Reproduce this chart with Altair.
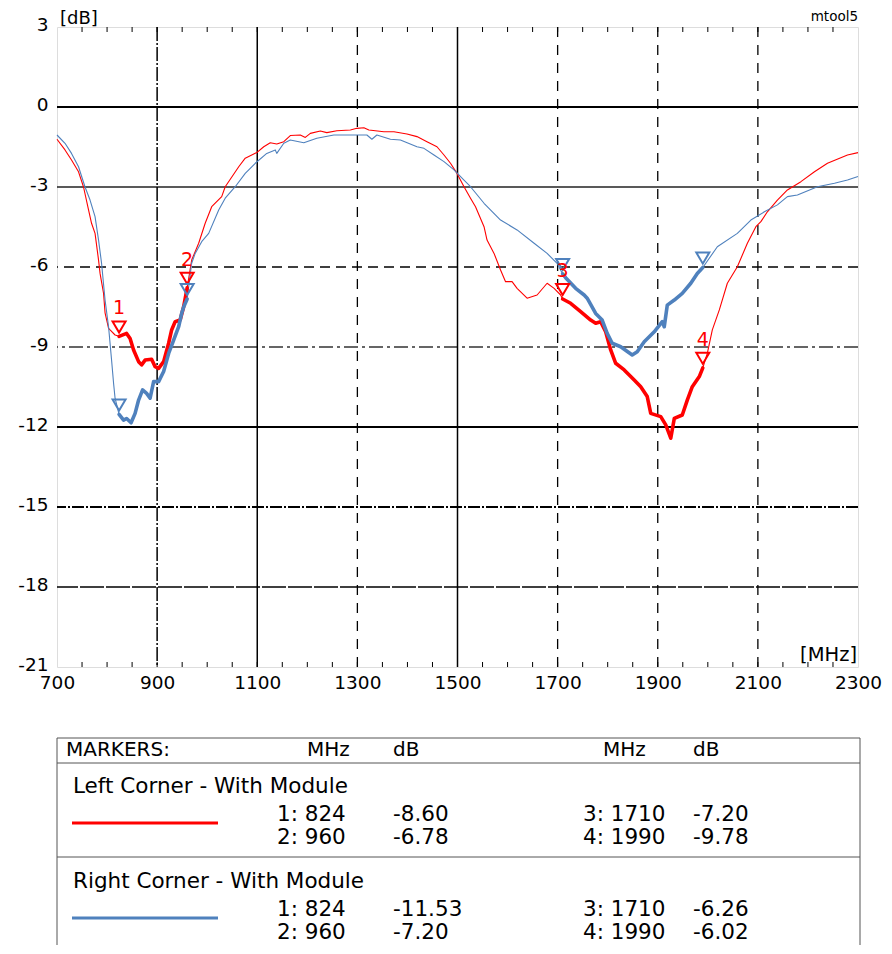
import altair as alt
import pandas as pd

# ---------------- data ----------------
series_names = ["Left Corner - With Module", "Right Corner - With Module"]
series_colors = ["#ff0000", "#4f81bd"]

red_f = [700, 716, 729, 743, 753, 763, 769, 776, 783, 786, 793, 796, 803, 806, 816,
         824, 839, 846, 853, 863, 869, 876, 889, 896, 903, 913, 923, 929, 936, 946, 953,
         960, 969, 983, 996, 1009, 1029, 1036, 1063, 1076, 1099, 1113, 1126, 1139, 1153,
         1166, 1186, 1196, 1206, 1226, 1239, 1259, 1286, 1299, 1313, 1323, 1353, 1373,
         1399, 1419, 1439, 1459, 1473, 1486, 1499, 1513, 1526, 1536, 1553, 1559, 1573,
         1586, 1596, 1609, 1619, 1639, 1659, 1679, 1693, 1706, 1710, 1726, 1746, 1766,
         1776, 1786, 1796, 1806, 1816, 1833, 1853, 1866, 1879, 1886, 1906, 1916, 1926,
         1933, 1949, 1959, 1969, 1983, 1990, 1999, 2009, 2023, 2039, 2059, 2079, 2096,
         2106, 2119, 2139, 2159, 2186, 2213, 2239, 2279, 2300]
red_db = [-1.21, -1.61, -1.99, -2.43, -3.00, -3.86, -4.36, -4.74, -5.74, -6.24, -6.99, -7.72, -8.30, -8.36, -8.55,
          -8.60, -8.49, -8.68, -9.11, -9.55, -9.67, -9.49, -9.46, -9.74, -9.80, -9.55, -8.86, -8.36, -8.05, -7.99, -7.49,
          -6.78, -5.74, -5.11, -4.36, -3.74, -3.36, -2.99, -2.24, -1.92, -1.71, -1.49, -1.34, -1.39, -1.30,
          -1.07, -1.05, -1.14, -0.99, -0.90, -0.96, -0.89, -0.86, -0.80, -0.78, -0.86, -0.93, -0.93,
          -1.01, -1.11, -1.30, -1.49, -1.80, -2.11, -2.49, -2.99, -3.42, -3.74, -4.49, -4.99, -5.49,
          -6.11, -6.55, -6.55, -6.80, -7.17, -7.05, -6.61, -6.80, -7.05, -7.20, -7.36, -7.67, -7.99,
          -8.11, -8.05, -8.43, -9.11, -9.61, -9.86, -10.24, -10.49, -10.86, -11.49, -11.61, -11.92, -12.42,
          -11.68, -11.55, -10.99, -10.49, -10.11, -9.78, -9.24, -8.36, -7.61, -6.61, -5.99, -5.11, -4.49,
          -4.30, -3.93, -3.49, -3.11, -2.80, -2.43, -2.11, -1.80, -1.71]

blue_f = [700, 716, 729, 743, 756, 766, 776, 783, 789, 796, 803, 809, 813, 816,
          824, 833, 839, 848, 856, 863, 871, 879, 886, 893, 903, 913, 923, 933, 943, 949, 953,
          960, 969, 976, 989, 1003, 1023, 1036, 1056, 1076, 1096, 1119, 1136, 1139, 1153, 1166,
          1193, 1219, 1253, 1286, 1319, 1329, 1339, 1366, 1386, 1419, 1433, 1453, 1473, 1493,
          1513, 1526, 1553, 1586, 1619, 1653, 1679, 1699, 1710, 1716, 1736, 1753, 1759, 1776,
          1789, 1799, 1809, 1826, 1849, 1859, 1873, 1893, 1909, 1913, 1919, 1933, 1949, 1966,
          1979, 1990, 2019, 2059, 2086, 2113, 2139, 2159, 2179, 2219, 2253, 2279, 2300]
blue_db = [-1.05, -1.36, -1.74, -2.24, -3.00, -3.49, -4.11, -4.99, -5.86, -7.24, -8.24, -9.49, -10.36, -10.92,
           -11.53, -11.74, -11.68, -11.84, -11.49, -10.99, -10.61, -10.74, -10.92, -10.30, -10.30, -9.92, -9.24, -8.74, -8.24, -7.74, -7.50,
           -7.20, -5.86, -5.49, -5.05, -4.74, -3.86, -3.42, -2.99, -2.49, -2.11, -1.74, -1.61, -1.74, -1.36, -1.24,
           -1.34, -1.17, -1.05, -1.05, -1.05, -1.21, -1.05, -1.21, -1.24, -1.49, -1.55, -1.80, -2.05, -2.36,
           -2.74, -2.99, -3.61, -4.24, -4.61, -5.11, -5.49, -5.86, -6.26, -6.40, -6.80, -7.05, -7.17, -7.74,
           -7.99, -8.49, -8.86, -8.99, -9.30, -9.18, -8.80, -8.43, -8.05, -8.24, -7.43, -7.24, -6.99, -6.61,
           -6.24, -6.02, -5.24, -4.74, -4.24, -3.93, -3.67, -3.36, -3.30, -2.99, -2.86, -2.74, -2.61]

marker_no = [1, 2, 3, 4]
marker_f = [824, 960, 1710, 1990]
red_marker_db = [-8.60, -6.78, -7.20, -9.78]
blue_marker_db = [-11.53, -7.20, -6.26, -6.02]

x_ticks = [700, 900, 1100, 1300, 1500, 1700, 1900, 2100, 2300]
y_ticks = [3, 0, -3, -6, -9, -12, -15, -18, -21]
minor_x = list(range(750, 2300, 50))

# ---------------- tables ----------------
curves = pd.concat([
    pd.DataFrame({"f": red_f, "db": red_db, "series": series_names[0]}),
    pd.DataFrame({"f": blue_f, "db": blue_db, "series": series_names[1]}),
])
markers = pd.concat([
    pd.DataFrame({"f": marker_f, "db": red_marker_db, "no": marker_no, "series": series_names[0]}),
    pd.DataFrame({"f": marker_f, "db": blue_marker_db, "no": marker_no, "series": series_names[1]}),
])

W, H = 801, 640
FONT = "DejaVu Sans"
xs = alt.Scale(domain=[700, 2300], nice=False, zero=False)
ys = alt.Scale(domain=[-21, 3], nice=False, zero=False)
cs = alt.Scale(domain=series_names, range=series_colors)

XAX = alt.Axis(values=x_ticks, grid=False, domain=False, ticks=False, title=None,
               labelFontSize=18.5, labelFont=FONT, labelColor="#000",
               labelPadding=6, labelFlush=False, labelOverlap=False, labelBound=False,
               labelExpr="'' + datum.value")
YAX = alt.Axis(values=y_ticks, grid=False, domain=False, ticks=False, title=None,
               labelFontSize=18.5, labelFont=FONT, labelColor="#000",
               labelPadding=9, labelFlush=False, labelOverlap=False, labelBound=False,
               labelOffset=-3, labelExpr="'' + datum.value")


def X(field):
    return alt.X(field, scale=xs, axis=XAX, title=None)


def Y(field):
    return alt.Y(field, scale=ys, axis=YAX, title=None)


one = pd.DataFrame({"a": [0]})


def hgrid(vals, dash, width, color="#000"):
    kw = dict(color=color, strokeWidth=width)
    if dash:
        kw["strokeDash"] = dash
    return alt.Chart(pd.DataFrame({"v": vals})).mark_rule(**kw).encode(y=Y("v:Q"))


def vgrid(vals, dash, width, color="#000"):
    kw = dict(color=color, strokeWidth=width)
    if dash:
        kw["strokeDash"] = dash
    return alt.Chart(pd.DataFrame({"v": vals})).mark_rule(**kw).encode(x=X("v:Q"))


def ann(text, x, y, size, align="left", baseline="middle", color="#000"):
    return alt.Chart(one).mark_text(
        text=text, align=align, baseline=baseline, fontSize=size, font=FONT, color=color
    ).encode(x=alt.value(x), y=alt.value(y))


def hline(x1, x2, y, color="#555", width=1):
    return alt.Chart(one).mark_rule(color=color, strokeWidth=width).encode(
        x=alt.value(x1), x2=alt.value(x2), y=alt.value(y), y2=alt.value(y))


def vline(x, y1, y2, color="#555", width=1):
    return alt.Chart(one).mark_rule(color=color, strokeWidth=width).encode(
        x=alt.value(x), x2=alt.value(x), y=alt.value(y1), y2=alt.value(y2))


grids = [
    hgrid([0, -12], None, 2),
    hgrid([-3], None, 1.5, "#222"),
    hgrid([-6], [10, 6], 1.3),
    hgrid([-9], [14, 4, 3, 4], 1.3, "#333"),
    hgrid([-15], [12, 2, 2, 2], 2),
    hgrid([-18], [24, 2], 1.5),
    vgrid([900], [14, 2, 2, 2], 1.5),
    vgrid([1100, 1500], None, 1.5),
    vgrid([1300, 1700, 1900, 2100], [10, 8], 1.3),
]

minor_top = alt.Chart(pd.DataFrame({"v": minor_x})).mark_rule(color="#000", strokeWidth=1).encode(
    x=X("v:Q"), y=alt.value(0), y2=alt.value(5))
minor_bot = alt.Chart(pd.DataFrame({"v": minor_x})).mark_rule(color="#000", strokeWidth=1).encode(
    x=X("v:Q"), y=alt.value(H - 5), y2=alt.value(H))

thin = alt.Chart(curves).mark_line(strokeWidth=1.1, strokeJoin="round").encode(
    x=X("f:Q"), y=Y("db:Q"),
    color=alt.Color("series:N", scale=cs, legend=None),
    detail="series:N",
)

thick = alt.Chart(curves).transform_filter(
    "(datum.f >= 824 && datum.f <= 960) || (datum.f >= 1710 && datum.f <= 1990)"
).transform_calculate(seg="datum.f < 1300 ? 'a' : 'b'").mark_line(
    strokeWidth=3.6, strokeJoin="round", strokeCap="round"
).encode(
    x=X("f:Q"), y=Y("db:Q"),
    color=alt.Color("series:N", scale=cs, legend=None),
    detail="seg:N",
)

tri = "M-1,-2.3L1,-2.3L0,-0.6Z"
mark_pts = alt.Chart(markers).mark_point(
    shape=tri, size=169, filled=False, strokeWidth=2, opacity=1
).encode(
    x=X("f:Q"), y=Y("db:Q"),
    color=alt.Color("series:N", scale=cs, legend=None),
)
mark_lbl = alt.Chart(markers).transform_filter(
    alt.datum.series == series_names[0]
).mark_text(dy=-22, baseline="alphabetic", fontSize=19, font=FONT, color=series_colors[0]).encode(
    x=X("f:Q"), y=Y("db:Q"),
    text="no:N",
)

# ---------------- annotations ----------------
texts = [
    ann("[dB]", 3, -3, 18, baseline="alphabetic"),
    ann("mtool5", W, -6, 13.5, align="right", baseline="alphabetic"),
    ann("[MHz]", W - 1, H - 6, 19.5, align="right", baseline="alphabetic"),
]

# marker table below the plot
T = 711
FS = 21.5
table = [
    hline(0, 803, T), hline(0, 803, T + 25), hline(0, 803, T + 119),
    vline(0, T, T + 240), vline(803, T, T + 240),
    ann("MARKERS:", 9, T + 12, 20),
    ann("MHz", 250, T + 12, 20), ann("dB", 336, T + 12, 20),
    ann("MHz", 546, T + 12, 20), ann("dB", 636, T + 12, 20),
]
rows_y = [[T + 77, T + 100], [T + 172, T + 195]]
title_y = [T + 49, T + 144]
line_y = [T + 85, T + 180]
values = [red_marker_db, blue_marker_db]
for s in range(2):
    table.append(ann(series_names[s], 16, title_y[s], FS))
    table.append(hline(15, 161, line_y[s], series_colors[s], 3.2))
    for k in range(4):
        col = 0 if k < 2 else 1
        yy = rows_y[s][k % 2]
        table.append(ann(f"{marker_no[k]}: {marker_f[k]}", 220 + col * 306, yy, FS))
        table.append(ann(f"{values[s][k]:.2f}", 336 + col * 300, yy, FS))

chart = alt.layer(
    *grids, minor_top, minor_bot, thin, thick, mark_pts, mark_lbl, *texts, *table
).properties(
    width=W, height=H,
    autosize=alt.AutoSizeParams(type="none"),
    padding={"left": 49, "top": 19, "right": 26, "bottom": 278},
).configure_view(stroke="#111", strokeWidth=2).configure(background="white")

chart.save("out.html", embed_options={"renderer": "svg", "actions": False})
